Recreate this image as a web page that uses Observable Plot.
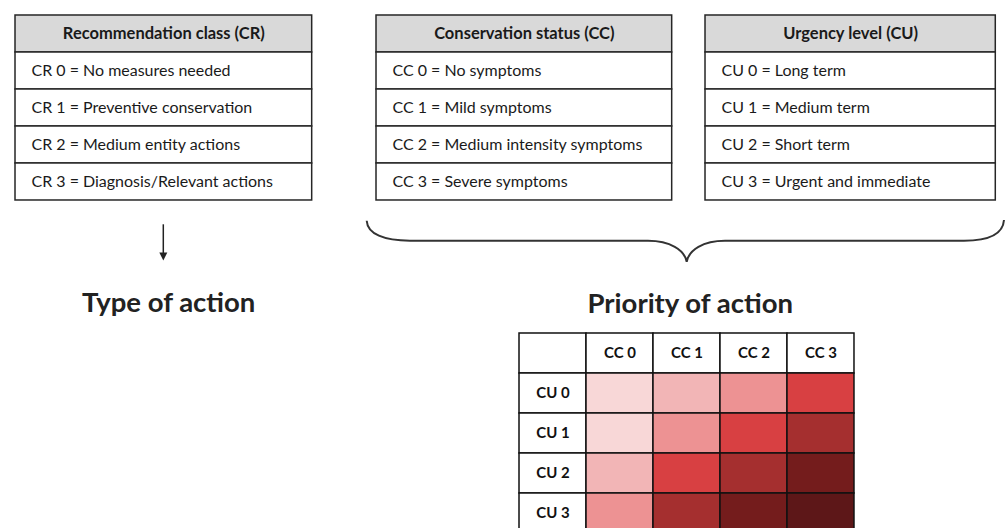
<!DOCTYPE html>
<html>
<head>
<meta charset="utf-8">
<script src="https://cdn.jsdelivr.net/npm/d3@7"></script>
<script src="https://cdn.jsdelivr.net/npm/@observablehq/plot@0.6"></script>
<style>
  html, body { margin: 0; padding: 0; background: #fff; overflow: hidden; }
  #root { position: relative; width: 1006px; height: 528px; overflow: hidden; background: #fff; font-family: Lato, "Noto Sans", sans-serif; }
  .piece { position: absolute; }
  .piece svg { display: block; overflow: visible; }
</style>
</head>
<body>
<div id="root"></div>
<script>
// ---------- data ----------
const tableTitles = ["Recommendation class (CR)", "Conservation status (CC)", "Urgency level (CU)"];
const crLabels = ["CR 0 = No measures needed", "CR 1 = Preventive conservation", "CR 2 = Medium entity actions", "CR 3 = Diagnosis/Relevant actions"];
const ccLabels = ["CC 0 = No symptoms", "CC 1 = Mild symptoms", "CC 2 = Medium intensity symptoms", "CC 3 = Severe symptoms"];
const cuLabels = ["CU 0 = Long term", "CU 1 = Medium term", "CU 2 = Short term", "CU 3 = Urgent and immediate"];
const ccCodes = ["CC 0", "CC 1", "CC 2", "CC 3"];
const cuCodes = ["CU 0", "CU 1", "CU 2", "CU 3"];
// priority level for each CU row (outer) and CC column (inner)
const priority = [
  [0, 1, 2, 3],
  [0, 2, 3, 4],
  [1, 3, 4, 5],
  [2, 4, 5, 6]
];
const priorityLevels = [0, 1, 2, 3, 4, 5, 6];
const priorityColors = ["#f8d7d7", "#f2b5b6", "#ed9293", "#d84042", "#a52f2f", "#741c1c", "#5d1718"];
const sectionTitles = ["Type of action", "Priority of action"];

// ---------- helpers ----------
const root = document.getElementById("root");
function place(node, left, top) {
  const d = document.createElement("div");
  d.className = "piece";
  d.style.left = left + "px";
  d.style.top = top + "px";
  d.appendChild(node);
  root.appendChild(d);
}
const M = 2;
const border = "#262626";

function table(title, rows, w, h) {
  const data = [{key: "h", label: title, header: true}].concat(rows.map((r, i) => ({key: "r" + i, label: r, header: false})));
  const head = data.filter(d => d.header);
  const body = data.filter(d => !d.header);
  return Plot.plot({
    width: w + 2 * M, height: h + 2 * M, margin: M,
    x: {axis: null},
    y: {axis: null, type: "band", domain: data.map(d => d.key), padding: 0},
    style: {fontFamily: "Lato, 'Noto Sans', sans-serif", color: "#1a1a1a", background: "transparent", overflow: "visible"},
    marks: [
      Plot.cell(head, {y: "key", fill: "#d9d9d9", stroke: border, strokeWidth: 1.5, inset: 0}),
      Plot.cell(body, {y: "key", fill: "#ffffff", stroke: border, strokeWidth: 1.5, inset: 0}),
      Plot.text(head, {y: "key", text: "label", frameAnchor: "middle", textAnchor: "middle", fontWeight: "bold", fontSize: 16.5}),
      Plot.text(body, {y: "key", text: "label", frameAnchor: "left", textAnchor: "start", dx: 16, fontSize: 16})
    ]
  });
}

// ---------- tables ----------
const tH = 188;
place(table(tableTitles[0], crLabels, 296.7, tH), 15 - M, 12.7 - M);
place(table(tableTitles[1], ccLabels, 295.7, tH), 376 - M, 12.7 - M);
place(table(tableTitles[2], cuLabels, 290.3, tH), 704.7 - M, 12.7 - M);

// ---------- priority matrix ----------
const cells = [];
cuCodes.forEach((cu, i) => ccCodes.forEach((cc, j) => cells.push({cu, cc, level: priority[i][j]})));
const colHeads = ccCodes.map(cc => ({cc, cu: ""}));
const rowHeads = cuCodes.map(cu => ({cc: "", cu}));
const heads = [{cc: "", cu: ""}].concat(colHeads, rowHeads);

const mW = 336.7, mH = 200;
const matrix = Plot.plot({
  width: mW + 2 * M, height: mH + 2 * M, margin: M,
  x: {axis: null, type: "band", domain: [""].concat(ccCodes), padding: 0},
  y: {axis: null, type: "band", domain: [""].concat(cuCodes), padding: 0},
  color: {type: "ordinal", domain: priorityLevels, range: priorityColors},
  style: {fontFamily: "Lato, 'Noto Sans', sans-serif", color: "#111", background: "transparent", overflow: "visible"},
  marks: [
    Plot.cell(heads, {x: "cc", y: "cu", fill: "#ffffff", stroke: "#111", strokeWidth: 1.5, inset: 0}),
    Plot.cell(cells, {x: "cc", y: "cu", fill: "level", stroke: "#111", strokeWidth: 1.5, inset: 0}),
    Plot.text(colHeads, {x: "cc", y: "cu", text: "cc", fontWeight: "bold", fontSize: 15}),
    Plot.text(rowHeads, {x: "cc", y: "cu", text: "cu", fontWeight: "bold", fontSize: 15})
  ]
});
place(matrix, 518.3 - M, 333.3 - M);

// ---------- decorations: brace, arrow, section titles ----------
const svg = d3.create("svg").attr("width", 1006).attr("height", 528)
  .style("position", "absolute").style("left", "0px").style("top", "0px").style("overflow", "visible");
svg.append("path")
  .attr("d", "M366.7,220.7 C367.5,234 384,240.7 410,240.7 L648,240.7 C670,240.7 684.5,250 686.7,261.7 C689,250 703,240.7 725,240.7 L964,240.7 C988,240.7 1003,234 1004,220")
  .attr("fill", "none").attr("stroke", "#333").attr("stroke-width", 2);
svg.append("line").attr("x1", 163.3).attr("x2", 163.3).attr("y1", 224.3).attr("y2", 256)
  .attr("stroke", "#222").attr("stroke-width", 1.5);
svg.append("path").attr("d", "M159.3,252.5 L167.3,252.5 L163.3,260.5 Z").attr("fill", "#222");
svg.append("text").attr("x", 168.7).attr("y", 311.7).attr("text-anchor", "middle")
  .attr("font-family", "Lato, 'Noto Sans', sans-serif").attr("font-weight", "bold").attr("font-size", 27.5)
  .attr("fill", "#222").text(sectionTitles[0]);
svg.append("text").attr("x", 690.3).attr("y", 313).attr("text-anchor", "middle")
  .attr("font-family", "Lato, 'Noto Sans', sans-serif").attr("font-weight", "bold").attr("font-size", 27.5)
  .attr("fill", "#222").text(sectionTitles[1]);
root.appendChild(svg.node());
</script>
</body>
</html>
